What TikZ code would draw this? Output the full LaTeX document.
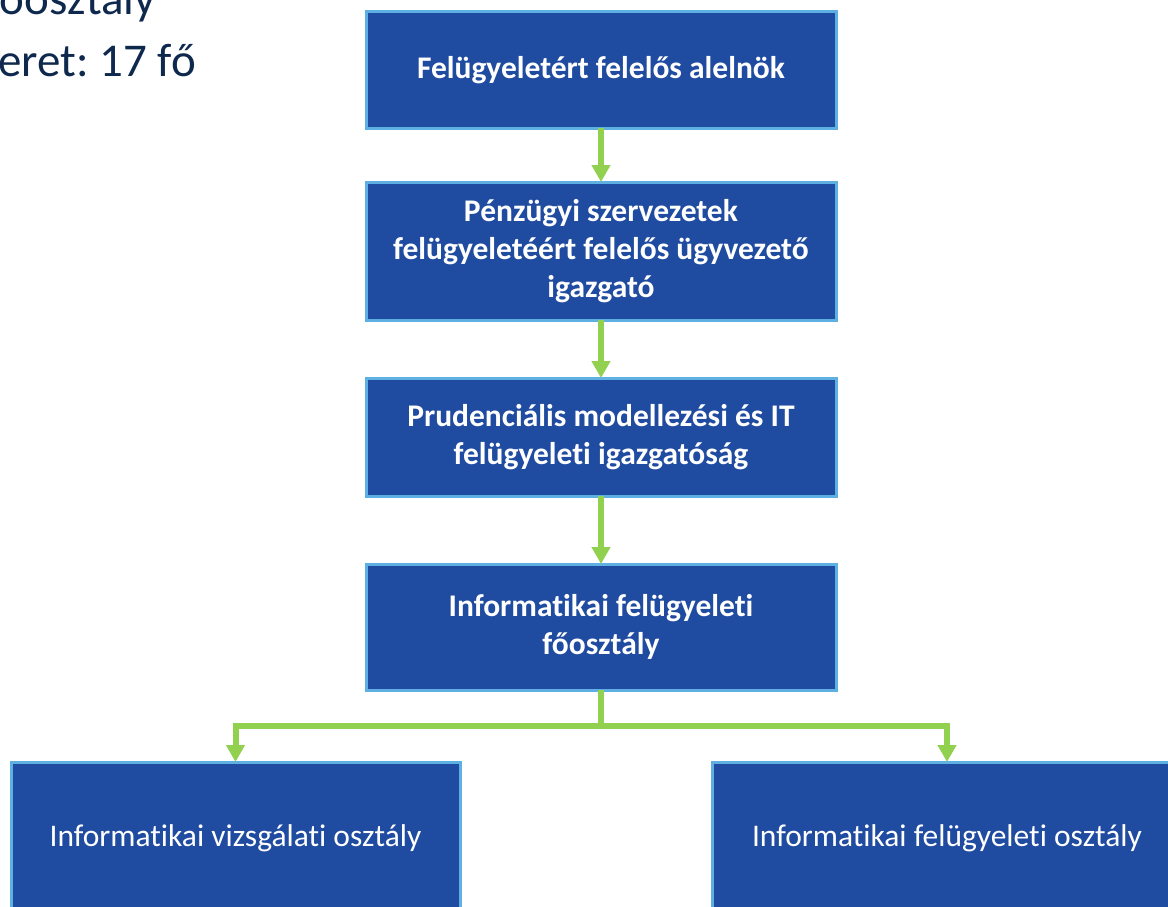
\documentclass[tikz,border=0pt]{standalone}
\usepackage{fontspec}
\setmainfont{Carlito}[RawFeature={-liga;-clig;-dlig;-calt}]
\usetikzlibrary{arrows.meta}
\usetikzlibrary{positioning}
\definecolor{mnbblue}{RGB}{31,75,160}
\definecolor{mnbedge}{RGB}{94,176,226}
\definecolor{mnbgreen}{RGB}{146,208,80}
\definecolor{mnbnavy}{RGB}{15,40,78}
\frenchspacing

\begin{document}
\begin{tikzpicture}[x=1pt,y=-1pt,
unit/.style = {rectangle, draw=mnbedge, line width=3pt, fill=mnbblue, text=white, align=center, minimum width=470pt, outer sep=0pt, inner sep=0pt, font=\fontsize{31.5}{38}\selectfont},
unit_b/.style = {unit, font=\fontsize{31.5}{38}\selectfont\bfseries},
unit_n/.style = {unit, minimum height=152pt},
link/.style = {draw=mnbgreen, line width=6pt, -{Triangle[width=18pt,length=17pt]}},
hdr/.style = {anchor=base east, inner sep=0pt, text=mnbnavy, font=\fontsize{47}{56}\selectfont}
]
\useasboundingbox (0,0) rectangle (1168,907);
\clip (0,0) rectangle (1168,907);

% heading, cut by the frame
\node (hdr1) [hdr] at (156,15) {főosztály};
\node (hdr2) [hdr] at (196,77) {létszámkeret: 17 fő};

% chain of units
\node (A) [unit_b, minimum height=116pt] at (601,70) {Felügyeletért felelős alelnök};
\node (B) [unit_b, minimum height=138pt, below=54pt of A] {Pénzügyi szervezetek\\felügyeletéért felelős ügyvezető\\igazgató};
\node (C) [unit_b, minimum height=118pt, below=58pt of B] {Prudenciális modellezési és IT\\felügyeleti igazgatóság};
\node (D) [unit_b, minimum height=126pt, below=68pt of C] {Informatikai felügyeleti\\főosztály};

\node (L) [unit_n, minimum width=449pt, below=72pt of D, xshift=-365.5pt] {Informatikai vizsgálati osztály};
\node (R) [unit_n, below=72pt of D, xshift=346pt] {Informatikai felügyeleti osztály};

\coordinate [below=36pt of D] (split);

\draw[link] (A) -- (B);
\draw[link] (B) -- (C);
\draw[link] (C) -- (D);
\draw[link] (D.south) -- (split) -| (L.north);
\draw[link] (D.south) -- (split) -| (R.north);
\end{tikzpicture}
\end{document}
